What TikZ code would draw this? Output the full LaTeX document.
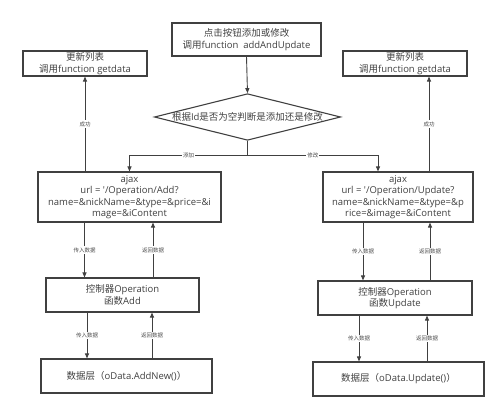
\documentclass[tikz,border=0pt]{standalone}
\usepackage{fontspec}
\setmainfont{Open Sans}
\newfontfamily\cjk{Noto Sans CJK SC}
\newcommand{\zh}[1]{{\cjk #1}}
\usetikzlibrary{positioning,shapes.geometric,arrows.meta}

\begin{document}
\begin{tikzpicture}[x=1pt, y=-1pt, %
    box/.style={draw=black!75, line width=1.1pt, align=center,
      font=\fontsize{9.5}{11.5}\selectfont, text=black!75, inner sep=1pt},
    dia/.style={box, shape=diamond, aspect=4, inner sep=0pt,
      minimum width=177pt, minimum height=44pt},
    arr/.style={draw=black!75, line width=0.9pt, -{Triangle[length=5pt,width=4pt]}},
    lbl/.style={fill=white, inner sep=1pt, font=\fontsize{5.5}{6}\selectfont, text=black!70}
  ]
  \useasboundingbox (0,0) rectangle (500,411);
  % top and decision
  \node[box, minimum width=149pt, minimum height=33pt] (start) at (246.5,39.5)
    {\zh{点击按钮添加或修改}\\\zh{调用}function\ \ addAndUpdate};
  \node[dia] (judge) at (247.5,117) {\zh{根据}Id\zh{是否为空判断是添加还是修改}};
  \node[box, minimum width=124pt, minimum height=25pt] (getL) at (85,63.5)
    {\zh{更新列表}\\\zh{调用}function getdata};
  \node[box, minimum width=124pt, minimum height=25pt] (getR) at (405,63.5)
    {\zh{更新列表}\\\zh{调用}function getdata};
  % left column
  \node[box, minimum width=183pt, minimum height=50pt] (ajaxL) at (129.5,197)
    {ajax\\url = \textquotesingle/Operation/Add?\\name=\&nickName=\&type=\&price=\&i\\mage=\&iContent};
  \node[box, minimum width=153pt, minimum height=34pt] (ctrlL) at (122.5,295)
    {\zh{控制器}Operation\\\zh{函数}Add};
  \node[box, minimum width=171pt, minimum height=34pt] (dataL) at (126.5,376)
    {\zh{数据层（}oData.AddNew()\zh{）}};
  % right column
  \node[box, minimum width=150pt, minimum height=50pt] (ajaxR) at (398,197)
    {ajax\\url = \textquotesingle/Operation/Update?\\name=\&nickName=\&type=\&p\\rice=\&image=\&iContent};
  \node[box, minimum width=154pt, minimum height=34pt] (ctrlR) at (395,298)
    {\zh{控制器}Operation\\\zh{函数}Update};
  \node[box, minimum width=171pt, minimum height=34pt] (dataR) at (398.5,379)
    {\zh{数据层（}oData.Update()\zh{）}};

  \coordinate (split) at (judge.south |- 0,155);
  \draw[arr] (start.south) -- (judge.north);
  \draw[draw=black!75, line width=0.9pt] (judge.south) -- (split);
  \draw[arr] (split) -| node[lbl, pos=0.25] {\zh{添加}} (ajaxL.north);
  \draw[arr] (split) -| node[lbl, pos=0.25] {\zh{修改}} ([xshift=-20pt]ajaxR.north);
  \draw[arr] (ajaxL.north -| getL.south) -- node[lbl] {\zh{成功}} (getL.south);
  \draw[arr] ([xshift=31pt]ajaxR.north) -- node[lbl] {\zh{成功}} ([xshift=31pt]ajaxR.north |- getR.south);

  \draw[arr] ([xshift=-45pt]ajaxL.south) -- node[lbl] {\zh{传入数据}} ([xshift=-45pt]ajaxL.south |- ctrlL.north);
  \draw[arr] ([xshift=23.5pt]ajaxL.south |- ctrlL.north) -- node[lbl] {\zh{返回数据}} ([xshift=23.5pt]ajaxL.south);
  \draw[arr] ([xshift=-35.5pt]ctrlL.south) -- node[lbl] {\zh{传入数据}} ([xshift=-35.5pt]ctrlL.south |- dataL.north);
  \draw[arr] ([xshift=29.5pt]ctrlL.south |- dataL.north) -- node[lbl] {\zh{返回数据}} ([xshift=29.5pt]ctrlL.south);

  \draw[arr] ([xshift=-35pt]ajaxR.south) -- node[lbl] {\zh{传入数据}} ([xshift=-35pt]ajaxR.south |- ctrlR.north);
  \draw[arr] ([xshift=32pt]ajaxR.south |- ctrlR.north) -- node[lbl] {\zh{返回数据}} ([xshift=32pt]ajaxR.south);
  \draw[arr] ([xshift=-36pt]ctrlR.south) -- node[lbl] {\zh{传入数据}} ([xshift=-36pt]ctrlR.south |- dataR.north);
  \draw[arr] ([xshift=32pt]ctrlR.south |- dataR.north) -- node[lbl] {\zh{返回数据}} ([xshift=32pt]ctrlR.south);
\end{tikzpicture}
\end{document}
